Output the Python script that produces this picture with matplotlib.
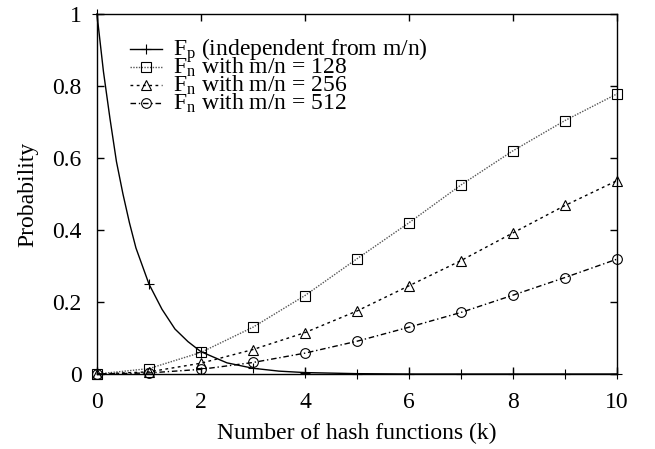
import matplotlib
matplotlib.use("Agg")
import matplotlib.pyplot as plt

plt.rcParams["font.family"] = ["Liberation Serif", "DejaVu Serif"]
plt.rcParams["mathtext.fontset"] = "custom"
plt.rcParams["mathtext.rm"] = "Liberation Serif"
plt.rcParams["mathtext.it"] = "Liberation Serif:italic"

# --- data ---
# F_p curve, sampled finely where it bends
k_fp = [0, 0.125, 0.25, 0.375, 0.5, 0.625, 0.75, 0.875, 1, 1.25, 1.5, 1.75,
        2, 2.5, 3, 3.5, 4, 5, 6, 7, 8, 9, 10]
fp = [1.0, 0.84, 0.71, 0.59, 0.50, 0.42, 0.35, 0.30, 0.25, 0.18, 0.125, 0.09,
      0.062, 0.031, 0.016, 0.008, 0.004, 0.001, 0.0, 0.0, 0.0, 0.0, 0.0]

k = [0, 1, 2, 3, 4, 5, 6, 7, 8, 9, 10]
fn_128 = [0.0, 0.015, 0.06, 0.13, 0.218, 0.32, 0.42, 0.525, 0.62, 0.704, 0.778]
fn_256 = [0.0, 0.006, 0.03, 0.068, 0.115, 0.175, 0.245, 0.315, 0.392, 0.468, 0.537]
fn_512 = [0.0, 0.003, 0.013, 0.032, 0.058, 0.091, 0.130, 0.171, 0.219, 0.268, 0.319]

xticks = [0, 2, 4, 6, 8, 10]
yticks = [0, 0.2, 0.4, 0.6, 0.8, 1]
ytick_labels = ["0", "0.2", "0.4", "0.6", "0.8", "1"]

labels = [
    r"F$_\mathrm{p}$ (independent from m/n)",
    r"F$_\mathrm{n}$ with m/n = 128",
    r"F$_\mathrm{n}$ with m/n = 256",
    r"F$_\mathrm{n}$ with m/n = 512",
]

FS = 17

fig = plt.figure(figsize=(6.55, 4.49), dpi=100)
ax = fig.add_axes([0.148, 0.167, 0.794, 0.802])

mk = dict(markerfacecolor="none", markeredgecolor="black", markeredgewidth=0.8,
          clip_on=False)

# line style / marker per series, same order as labels
styles = [
    dict(color="black", linestyle="-", marker="+", markersize=7),
    dict(color="#555555", linestyle=(0, (1, 1)), marker="s", markersize=6.5),
    dict(color="black", linestyle=(0, (2, 2.5)), marker="^", markersize=6.5),
    dict(color="black", linestyle=(0, (4, 2, 1, 2)), marker="o", markersize=7),
]

int_idx = [i for i, v in enumerate(k_fp) if v == int(v)]
ax.plot(k_fp, fp, lw=1.0, markevery=int_idx, **styles[0], **mk)
ax.plot(k, fn_128, lw=1.0, **styles[1], **mk)
ax.plot(k, fn_256, lw=1.0, **styles[2], **mk)
ax.plot(k, fn_512, lw=1.0, **styles[3], **mk)

ax.set_xlim(0, 10)
ax.set_ylim(0, 1)
ax.set_xticks(xticks)
ax.set_yticks(yticks)
ax.set_yticklabels(ytick_labels)
ax.tick_params(direction="in", length=5, width=1, top=True, right=True,
               labelsize=FS)
ax.tick_params(axis="y", pad=11)
ax.tick_params(axis="x", pad=13)
for s in ax.spines.values():
    s.set_linewidth(1.0)

ax.set_xlabel("Number of hash functions (k)", fontsize=FS, labelpad=7)
ax.set_ylabel("Probability", fontsize=FS, labelpad=10)

# gnuplot-style key with tight rows (drawn by hand, legend can't go this tight)
key_x0, key_x1, key_tx = 0.063, 0.125, 0.146
key_y, key_dy = 0.884, 0.050
for i, (lab, st) in enumerate(zip(labels, styles)):
    yb = key_y - i * key_dy
    yh = yb + 0.018
    ax.plot([key_x0, (key_x0 + key_x1) / 2, key_x1], [yh, yh, yh],
            transform=ax.transAxes, lw=1.0, markevery=[1], **st, **mk)
    ax.text(key_tx, yb, lab, transform=ax.transAxes, fontsize=FS,
            va="baseline", ha="left")

fig.savefig("out.png", dpi=100)
